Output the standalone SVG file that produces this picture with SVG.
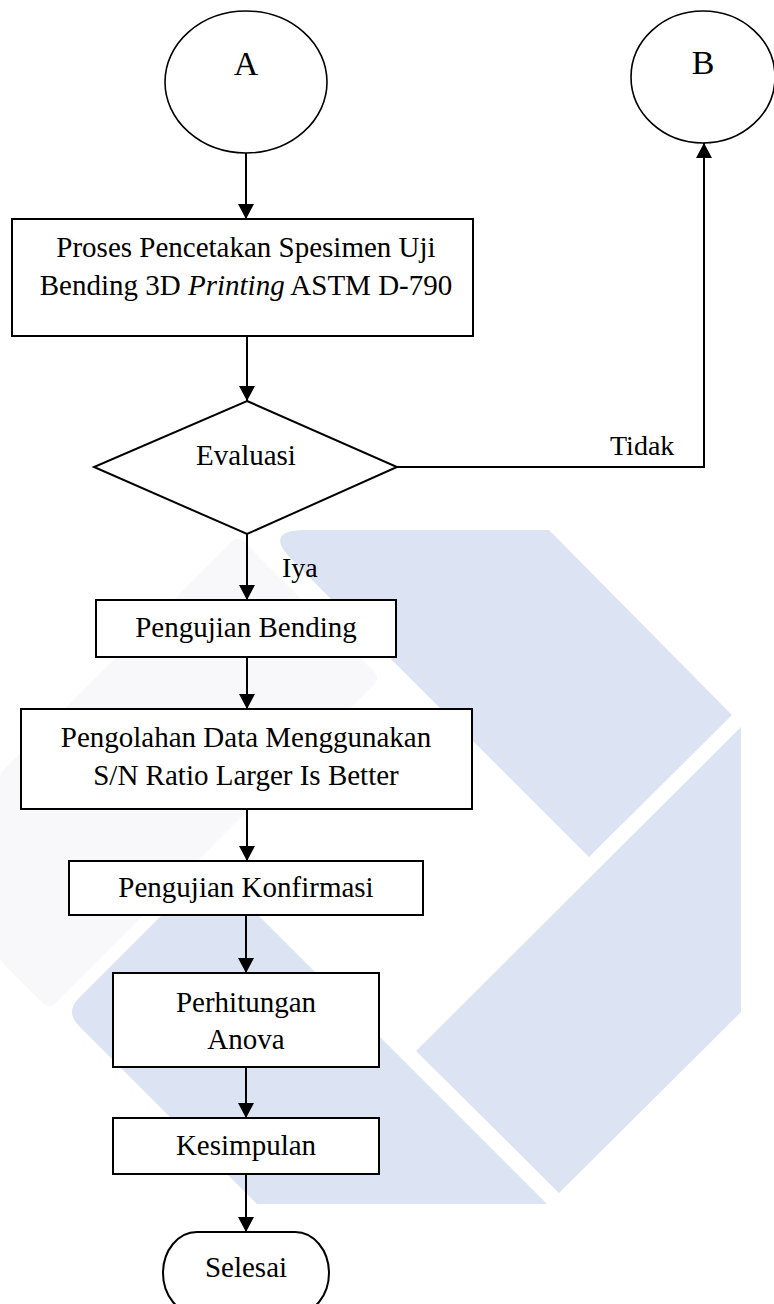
<svg xmlns="http://www.w3.org/2000/svg" width="774" height="1304" viewBox="0 0 774 1304">
<defs>
<style>
.wm{fill:#dce3f2;stroke:none}
.wf{fill:#f8f8fa;stroke:#f8f8fa;stroke-width:16;stroke-linejoin:round}
.box{fill:#ffffff;stroke:#000000;stroke-width:2}
.ell{fill:#ffffff;stroke:#000000;stroke-width:1.6}
.t{font-family:"Liberation Serif","Times New Roman",serif;font-size:29px;fill:#000000;text-anchor:middle}
.lbl{font-family:"Liberation Serif","Times New Roman",serif;font-size:28px;fill:#000000}
.big{font-family:"Liberation Serif","Times New Roman",serif;font-size:34px;fill:#000000;text-anchor:middle}
.con{fill:none;stroke:#000000;stroke-width:2;marker-end:url(#arr)}
</style>
<marker id="arr" viewBox="0 0 15 16" refX="15" refY="8" markerWidth="15" markerHeight="16" markerUnits="userSpaceOnUse" orient="auto">
<path d="M0,0 L15,8 L0,16 Z" fill="#000000"/>
</marker>
</defs>
<rect width="774" height="1304" fill="#ffffff"/>
<g id="watermark">
<polygon class="wf" points="238,547 369,678 49,998 8,957 8,777"/>
<path class="wm" d="M305.5,530 L549,530 L732,715 L589,857 L292.8,560.8 Q262,530 305.5,530 Z"/>
<path class="wm" d="M741,727 L741,1012 L559,1193 L416,1051 Z"/>
<path class="wm" d="M210,867 L79,998 Q65,1012 79,1026 L257,1204 L547,1204 Z"/>
</g>
<g id="connectors">
<path class="con" d="M246,153 L246,219"/>
<path class="con" d="M247,336 L247,401"/>
<path class="con" d="M247,534 L247,600"/>
<path class="con" d="M397,467 L704,467 L704,143"/>
<path class="con" d="M247,657 L247,709"/>
<path class="con" d="M247,809 L247,861"/>
<path class="con" d="M246,915 L246,973"/>
<path class="con" d="M246,1067 L246,1118"/>
<path class="con" d="M246,1174 L246,1232"/>
<text class="lbl" x="282" y="577">Iya</text>
<text class="lbl" x="610" y="455">Tidak</text>
</g>
<g id="nodeA">
<ellipse class="ell" cx="246" cy="82" rx="81" ry="71"/>
<text class="big" x="246" y="75">A</text>
</g>
<g id="nodeB">
<ellipse class="ell" cx="703" cy="77" rx="72" ry="66"/>
<text class="big" x="703" y="74">B</text>
</g>
<g id="proses">
<rect class="box" x="12" y="219" width="461" height="117"/>
<text class="t" x="246" y="257">Proses Pencetakan Spesimen Uji</text>
<text class="t" x="246" y="295">Bending 3D <tspan font-style="italic">Printing</tspan> ASTM D-790</text>
</g>
<g id="evaluasi">
<polygon class="box" points="247,401 397,467 247,534 94,467"/>
<text class="t" x="246" y="465">Evaluasi</text>
</g>
<g id="pengujianBending">
<rect class="box" x="96" y="600" width="300" height="57"/>
<text class="t" x="246" y="637">Pengujian Bending</text>
</g>
<g id="pengolahan">
<rect class="box" x="21" y="709" width="451" height="100"/>
<text class="t" x="246" y="747">Pengolahan Data Menggunakan</text>
<text class="t" x="246" y="785">S/N Ratio Larger Is Better</text>
</g>
<g id="konfirmasi">
<rect class="box" x="69" y="861" width="354" height="54"/>
<text class="t" x="246" y="897">Pengujian Konfirmasi</text>
</g>
<g id="anova">
<rect class="box" x="113" y="973" width="266" height="94"/>
<text class="t" x="246" y="1012">Perhitungan</text>
<text class="t" x="246" y="1049">Anova</text>
</g>
<g id="kesimpulan">
<rect class="box" x="113" y="1118" width="266" height="56"/>
<text class="t" x="246" y="1155">Kesimpulan</text>
</g>
<g id="selesai">
<rect class="box" x="163" y="1232" width="166" height="82" rx="34" ry="41"/>
<text class="t" x="246" y="1277">Selesai</text>
</g>
</svg>
